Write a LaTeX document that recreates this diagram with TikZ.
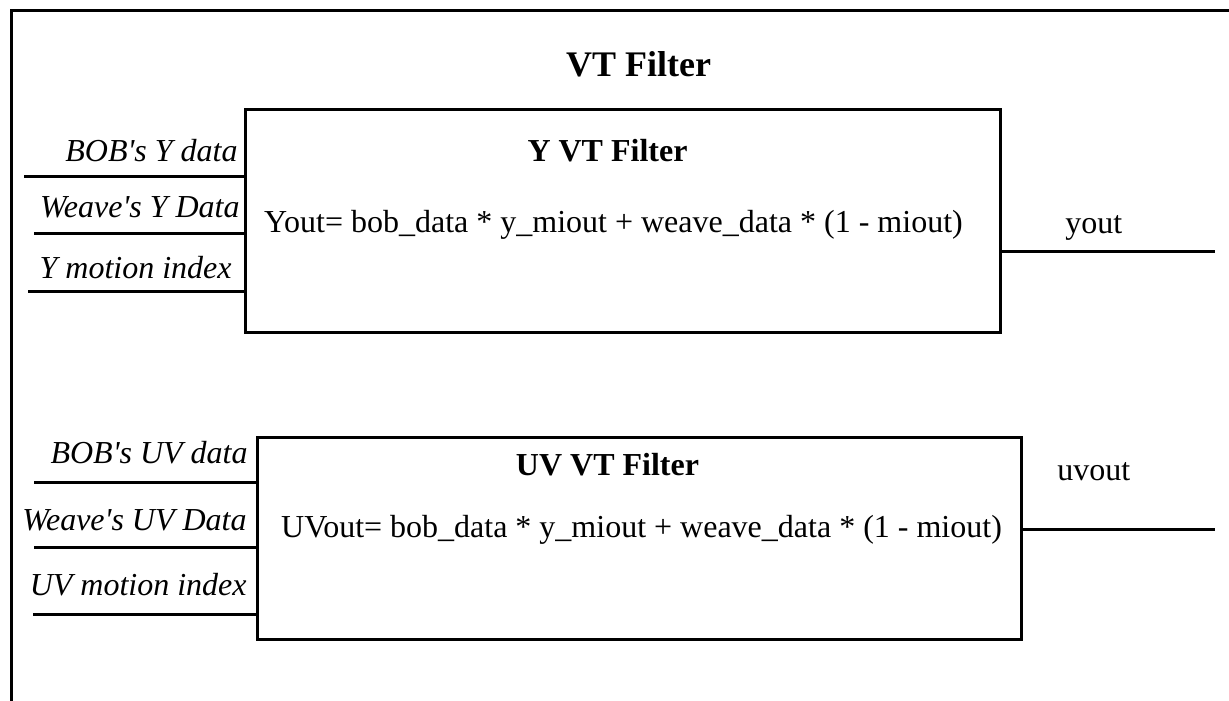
\documentclass[tikz,border=0pt]{standalone}
\usepackage{fontspec}
% straight apostrophes, as typed
\setmainfont{Liberation Serif}[Ligatures=TeXOff]
\begin{document}
\begin{tikzpicture}[x=0.5pt,y=-0.5pt,
  wire/.style={line width=1.5pt},
  block/.style={draw,line width=1.5pt,inner sep=0pt,outer sep=0pt},
  inlabel/.style={font=\itshape\fontsize{16}{19}\selectfont,anchor=base east,inner sep=0pt},
  outlabel/.style={font=\fontsize{16}{19}\selectfont,anchor=base west,inner sep=0pt},
  formula/.style={font=\fontsize{16}{19}\selectfont,anchor=base,inner sep=0pt},
  head/.style={font=\bfseries\fontsize{16}{19}\selectfont,anchor=base,inner sep=0pt},
  title/.style={font=\bfseries\fontsize{18}{22}\selectfont,anchor=base,inner sep=0pt}]
\useasboundingbox (0,0) rectangle (1229,700);

% enclosing frame, running off the page on the right and at the bottom
\begin{scope}
  \clip (0,0) rectangle (1229,700);
  \node[block,anchor=north west,minimum width=650pt,minimum height=380pt] (frame) at (11,11) {};
\end{scope}

\node[title] (vttitle) at (638.5,77) {VT Filter};

% ---------------- Y filter ----------------
\node[block,minimum width=377.5pt,minimum height=111pt] (ybox) at (622.5,221) {};
\node[head] (yhead) at (607.5,162) {Y VT Filter};
\node[formula] (yformula) at (613.5,232) {Yout= bob\_data * y\_miout + weave\_data * (1 - miout)};

\coordinate (yin1) at (24,177);
\coordinate (yin2) at (34,233);
\coordinate (yin3) at (28,291);
\draw[wire] (yin1) -- (yin1 -| ybox.west);
\draw[wire] (yin2) -- (yin2 -| ybox.west);
\draw[wire] (yin3) -- (yin3 -| ybox.west);
\node[inlabel] (ylab1) at (238,162) {BOB's Y data};
\node[inlabel] (ylab2) at (240,218) {Weave's Y Data};
\node[inlabel] (ylab3) at (232,278) {Y motion index};

\coordinate (yout) at (1215,251);
\draw[wire] (yout -| ybox.east) -- (yout);
\node[outlabel] (youtlab) at (1065,233) {yout};

% ---------------- UV filter ----------------
\node[block,minimum width=382pt,minimum height=101pt] (uvbox) at (639,538) {};
\node[head] (uvhead) at (607.5,475) {UV VT Filter};
\node[formula] (uvformula) at (641.5,537) {UVout= bob\_data * y\_miout + weave\_data * (1 - miout)};

\coordinate (uvin1) at (34,482);
\coordinate (uvin2) at (34,547);
\coordinate (uvin3) at (33,614);
\draw[wire] (uvin1) -- (uvin1 -| uvbox.west);
\draw[wire] (uvin2) -- (uvin2 -| uvbox.west);
\draw[wire] (uvin3) -- (uvin3 -| uvbox.west);
\node[inlabel] (uvlab1) at (248,463) {BOB's UV data};
\node[inlabel] (uvlab2) at (247,530) {Weave's UV Data};
\node[inlabel] (uvlab3) at (247,595) {UV motion index};

\coordinate (uvout) at (1215,529);
\draw[wire] (uvout -| uvbox.east) -- (uvout);
\node[outlabel] (uvoutlab) at (1057,480) {uvout};
\end{tikzpicture}
\end{document}
